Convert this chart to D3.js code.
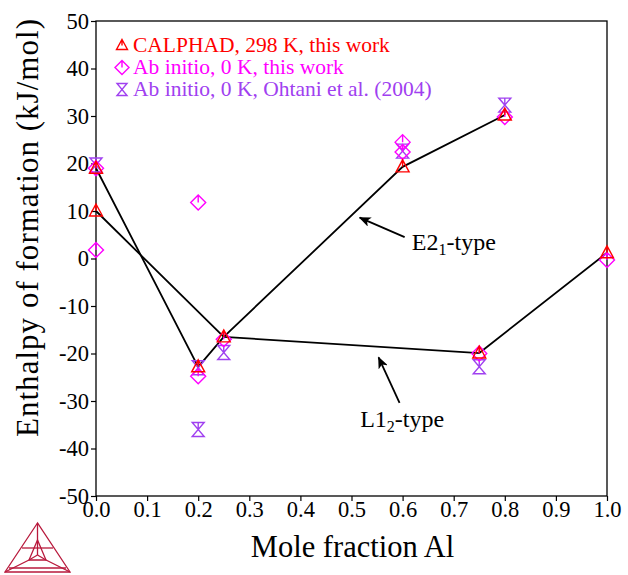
<!DOCTYPE html>
<html>
<head>
<meta charset="utf-8">
<script src="https://cdn.jsdelivr.net/npm/d3@7"></script>
<style>
  body { margin: 0; background: #fff; }
  svg text { font-family: "Liberation Serif", "DejaVu Serif", "Times New Roman", serif; }
</style>
</head>
<body>
<div id="chart"></div>
<script>
// Data
const calphadX = [0, 0, 0.2, 0.25, 0.6, 0.75, 0.8, 1.0];
const calphadY = [10, 19, -22.8, -16.5, 19.3, -19.9, 30.2, 1.2];

const abinitioX = [0, 0, 0.2, 0.2, 0.25, 0.6, 0.6, 0.75, 0.8, 1.0];
const abinitioY = [1.8, 19, 11.8, -24.8, -17, 24.5, 22.4, -20, 29.8, -0.3];

const ohtaniX = [0, 0.2, 0.2, 0.25, 0.6, 0.75, 0.8];
const ohtaniY = [19.7, -23, -36, -19.8, 22.6, -22.8, 32.3];

// Phase lines
const l12X = [0, 0.25, 0.75, 1.0];
const l12Y = [10, -16.5, -19.9, 1.2];
const e21X = [0, 0.2, 0.25, 0.6, 0.8];
const e21Y = [19, -22.8, -16.5, 19.3, 30.2];

const xTicks = [0, 0.1, 0.2, 0.3, 0.4, 0.5, 0.6, 0.7, 0.8, 0.9, 1.0];
const yTicks = [-50, -40, -30, -20, -10, 0, 10, 20, 30, 40, 50];

const legendLabels = [
  "CALPHAD, 298 K, this work",
  "Ab initio, 0 K, this work",
  "Ab initio, 0 K, Ohtani et al. (2004)",
];

// Colours
const red = "#ff0000";
const magenta = "#ff00ff";
const purple = "#a040f0";
const logoColour = "#b8193c";

const fontFamily = "'Liberation Serif', 'DejaVu Serif', 'Times New Roman', serif";

const width = 628;
const height = 575;
const margin = { top: 21, right: 21, bottom: 79, left: 96 };

const xScale = d3.scaleLinear().domain([0, 1]).range([margin.left, width - margin.right]);
const yScale = d3.scaleLinear().domain([-50, 50]).range([height - margin.bottom, margin.top]);

const svg = d3.select("#chart").append("svg")
  .attr("width", width)
  .attr("height", height)
  .attr("font-family", fontFamily);

// Frame
svg.append("rect")
  .attr("x", margin.left)
  .attr("y", margin.top)
  .attr("width", width - margin.left - margin.right)
  .attr("height", height - margin.top - margin.bottom)
  .attr("fill", "none")
  .attr("stroke", "#000")
  .attr("stroke-width", 1.3);

// Axes
const xAxis = d3.axisBottom(xScale)
  .tickValues(xTicks)
  .tickFormat(d3.format(".1f"))
  .tickSize(5)
  .tickSizeOuter(0);
const yAxis = d3.axisLeft(yScale)
  .tickValues(yTicks)
  .tickFormat((d) => String(d))
  .tickSize(5)
  .tickSizeOuter(0)
  .tickPadding(2);

const gx = svg.append("g")
  .attr("transform", `translate(0, ${yScale(-50)})`)
  .call(xAxis);
const gy = svg.append("g")
  .attr("transform", `translate(${margin.left}, 0)`)
  .call(yAxis);

[gx, gy].forEach((g) => {
  g.attr("font-family", fontFamily).attr("font-size", 22.5);
  g.select(".domain").remove();
  g.selectAll("line").attr("stroke", "#000").attr("stroke-width", 1.2);
  g.selectAll("text").attr("fill", "#000");
});
gy.selectAll("text").attr("dy", "0.32em");
// x labels sit close under the tick marks
gx.selectAll("text").attr("y", 5).attr("dy", "0.71em");

// Axis titles
svg.append("text")
  .attr("x", (xScale(0) + xScale(1)) / 2 + 1)
  .attr("y", 557)
  .attr("text-anchor", "middle")
  .attr("font-size", 30.5)
  .text("Mole fraction Al");

svg.append("text")
  .attr("transform", "translate(37.5, 228) rotate(-90)")
  .attr("text-anchor", "middle")
  .attr("font-size", 31)
  .attr("textLength", 418)
  .attr("lengthAdjust", "spacing")
  .text("Enthalpy of formation (kJ/mol)");

// Lines
const line = d3.line().x((d) => xScale(d[0])).y((d) => yScale(d[1]));
[[l12X, l12Y], [e21X, e21Y]].forEach(([xs, ys]) => {
  svg.append("path")
    .attr("d", line(xs.map((x, i) => [x, ys[i]])))
    .attr("fill", "none")
    .attr("stroke", "#000")
    .attr("stroke-width", 1.8);
});

// Marker shapes (relative to centre)
const trianglePath = "M0,-7 L6.5,5 L-6.5,5 Z M0,-7 V0";
const diamondPath = "M0,-7.5 L7.5,0 L0,7.5 L-7.5,0 Z M0,-7.5 V0";
const hourglassPath = "M-6,-7 H6 L-6,7 H6 Z M0,-7 V0";

const drawMarkers = (xs, ys, path, colour) => {
  svg.append("g")
    .selectAll("path")
    .data(xs.map((x, i) => [x, ys[i]]))
    .enter()
    .append("path")
    .attr("transform", (d) => `translate(${xScale(d[0])}, ${yScale(d[1])})`)
    .attr("d", path)
    .attr("fill", "none")
    .attr("stroke", colour)
    .attr("stroke-width", 1.4);
};

drawMarkers(ohtaniX, ohtaniY, hourglassPath, purple);
drawMarkers(abinitioX, abinitioY, diamondPath, magenta);
drawMarkers(calphadX, calphadY, trianglePath, red);

// Legend
const legendColours = [red, magenta, purple];
const legendPaths = [
  "M0,-6 L5.5,4 L-5.5,4 Z M0,-6 V0",
  "M0,-7 L7,0 L0,7 L-7,0 Z M0,-7 V0",
  "M-5,-6 H5 L-5,6 H5 Z",
];
legendLabels.forEach((label, i) => {
  const y = 45.5 + i * 22;
  svg.append("path")
    .attr("transform", `translate(122, ${y})`)
    .attr("d", legendPaths[i])
    .attr("fill", "none")
    .attr("stroke", legendColours[i])
    .attr("stroke-width", 1.4);
  svg.append("text")
    .attr("x", 133)
    .attr("y", y + 6.5)
    .attr("fill", legendColours[i])
    .attr("font-size", 21.5)
    .text(label);
});

// Annotations with arrows
svg.append("defs").append("marker")
  .attr("id", "arrow")
  .attr("viewBox", "0 0 12 10")
  .attr("refX", 11)
  .attr("refY", 5)
  .attr("markerWidth", 12)
  .attr("markerHeight", 10)
  .attr("markerUnits", "userSpaceOnUse")
  .attr("orient", "auto")
  .append("path")
  .attr("d", "M0,0 L12,5 L0,10 L3,5 Z")
  .attr("fill", "#000");

const annotations = [
  { text: "E2", sub: "1", tx: 0.618, ty: 1.85, from: [0.604, 4.5], to: [0.516, 8.6] },
  { text: "L1", sub: "2", tx: 0.517, ty: -35.5, from: [0.594, -30.4], to: [0.553, -20.8] },
];
annotations.forEach((a) => {
  svg.append("line")
    .attr("x1", xScale(a.from[0]))
    .attr("y1", yScale(a.from[1]))
    .attr("x2", xScale(a.to[0]))
    .attr("y2", yScale(a.to[1]))
    .attr("stroke", "#000")
    .attr("stroke-width", 1.8)
    .attr("marker-end", "url(#arrow)");
  const t = svg.append("text")
    .attr("x", xScale(a.tx))
    .attr("y", yScale(a.ty))
    .attr("font-size", 24);
  t.append("tspan").text(a.text);
  t.append("tspan").attr("dy", 5).attr("font-size", 16).text(a.sub);
  t.append("tspan").attr("dy", -5).text("-type");
});

// Logo (bottom-left triangle)
const logo = svg.append("g")
  .attr("fill", "none")
  .attr("stroke", logoColour)
  .attr("stroke-width", 1.3);
const A = [37.5, 523], B = [5, 572], C = [70, 572];
const centre = [37.5, 555];
const inner = [[37.5, 540], [29, 560], [46, 560]];
const pts = (arr) => arr.map((p) => p.join(",")).join(" ");
logo.append("polygon").attr("points", pts([A, B, C]));
logo.append("polygon").attr("points", pts(inner));
logo.append("line").attr("x1", A[0]).attr("y1", A[1]).attr("x2", inner[0][0]).attr("y2", inner[0][1]);
logo.append("line").attr("x1", B[0]).attr("y1", B[1]).attr("x2", inner[1][0]).attr("y2", inner[1][1]);
logo.append("line").attr("x1", C[0]).attr("y1", C[1]).attr("x2", inner[2][0]).attr("y2", inner[2][1]);
inner.forEach((p) => {
  logo.append("line").attr("x1", p[0]).attr("y1", p[1]).attr("x2", centre[0]).attr("y2", centre[1]);
});
logo.append("line").attr("x1", 9).attr("y1", 568).attr("x2", 66).attr("y2", 568);
logo.append("line").attr("x1", 22).attr("y1", 548).attr("x2", 53).attr("y2", 548);
</script>
</body>
</html>
